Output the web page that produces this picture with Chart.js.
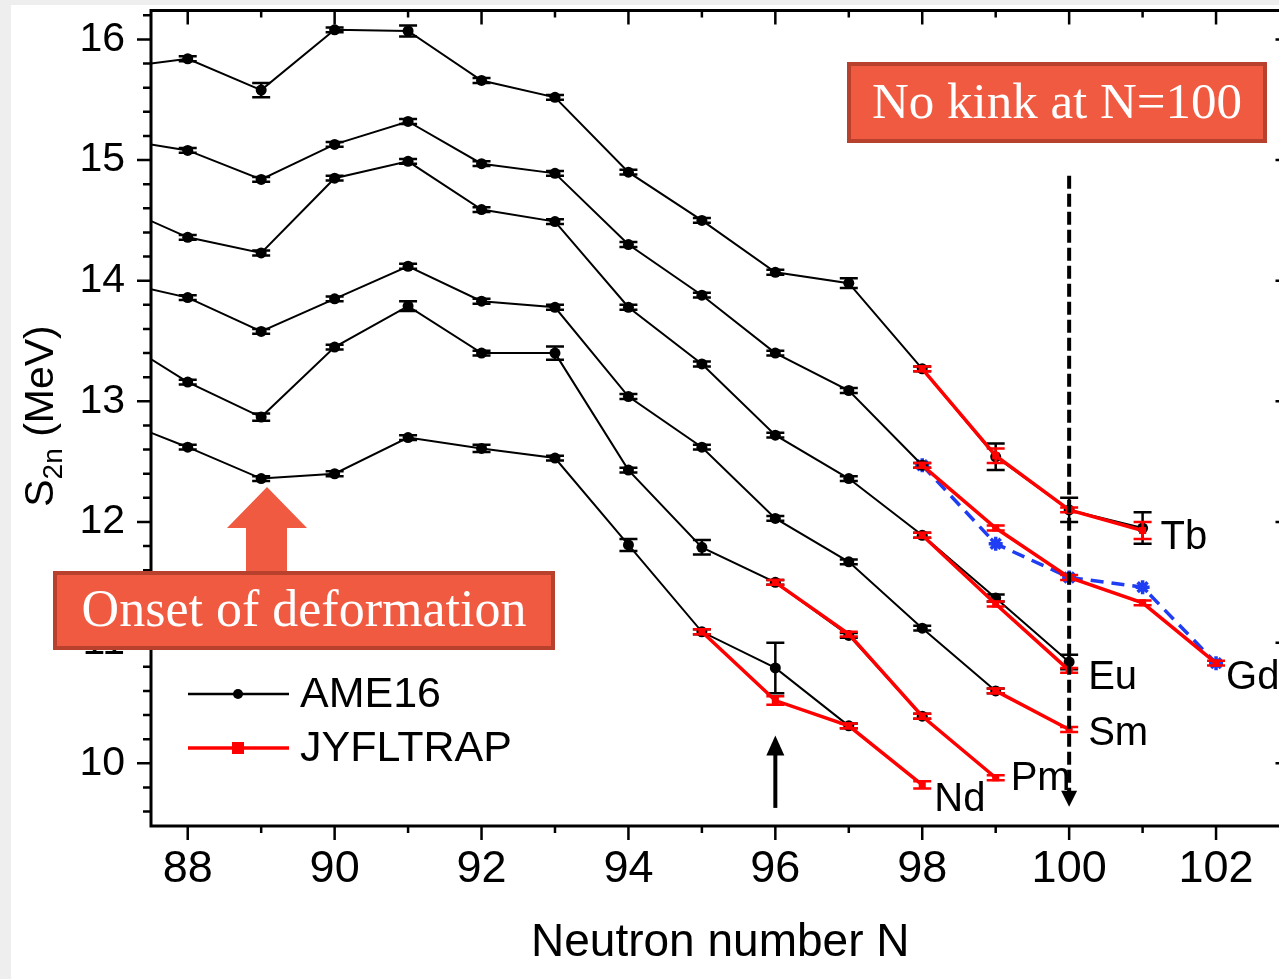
<!DOCTYPE html>
<html>
<head>
<meta charset="utf-8">
<script src="https://cdn.jsdelivr.net/npm/chart.js@4.4.0/dist/chart.umd.min.js"></script>
<style>
  html, body { margin: 0; padding: 0; overflow: hidden; background: #fff; }
  #wrap { position: relative; width: 1279px; height: 979px; overflow: hidden; }
  #s2nChart { position: absolute; left: 0; top: 0; }
</style>
</head>
<body>
<div id="wrap"><canvas id="s2nChart" width="1300" height="979"></canvas></div>
<script>
// Two-neutron separation energies S2n (MeV) versus neutron number N

// AME16 evaluation, one chain per element
const tbAmeN = [87, 88, 89, 90, 91, 92, 93, 94, 95, 96, 97, 98, 99, 100, 101];
const tbAmeS = [15.76, 15.84, 15.58, 16.08, 16.07, 15.66, 15.52, 14.90, 14.50, 14.07, 13.98, 13.27, 12.54, 12.10, 11.95];
const tbAmeErr = [0.02, 0.02, 0.06, 0.02, 0.045, 0.02, 0.02, 0.02, 0.02, 0.02, 0.04, 0.02, 0.11, 0.10, 0.13];

const gdAmeN = [87, 88, 89, 90, 91, 92, 93, 94, 95, 96, 97, 98];
const gdAmeS = [15.18, 15.08, 14.84, 15.13, 15.32, 14.97, 14.89, 14.30, 13.88, 13.40, 13.09, 12.47];
const gdAmeErr = [0.02, 0.02, 0.02, 0.02, 0.02, 0.02, 0.02, 0.02, 0.02, 0.02, 0.02, 0.02];

const euAmeN = [87, 88, 89, 90, 91, 92, 93, 94, 95, 96, 97, 98, 99, 100];
const euAmeS = [14.63, 14.36, 14.23, 14.85, 14.99, 14.59, 14.49, 13.78, 13.31, 12.72, 12.36, 11.89, 11.37, 10.84];
const euAmeErr = [0.02, 0.02, 0.02, 0.02, 0.02, 0.02, 0.02, 0.02, 0.02, 0.02, 0.02, 0.02, 0.03, 0.06];

const smAmeN = [87, 88, 89, 90, 91, 92, 93, 94, 95, 96, 97, 98, 99];
const smAmeS = [14.00, 13.86, 13.58, 13.85, 14.12, 13.83, 13.78, 13.04, 12.62, 12.03, 11.67, 11.12, 10.60];
const smAmeErr = [0.02, 0.02, 0.02, 0.02, 0.02, 0.02, 0.02, 0.02, 0.02, 0.02, 0.02, 0.02, 0.02];

const pmAmeN = [87, 88, 89, 90, 91, 92, 93, 94, 95, 96, 97, 98];
const pmAmeS = [13.54, 13.16, 12.87, 13.45, 13.79, 13.40, 13.40, 12.43, 11.79, 11.50, 11.06, 10.39];
const pmAmeErr = [0.02, 0.02, 0.03, 0.02, 0.04, 0.02, 0.055, 0.02, 0.06, 0.02, 0.02, 0.02];

const ndAmeN = [87, 88, 89, 90, 91, 92, 93, 94, 95, 96, 97];
const ndAmeS = [12.86, 12.62, 12.36, 12.40, 12.70, 12.61, 12.53, 11.81, 11.09, 10.79, 10.31];
const ndAmeErr = [0.02, 0.02, 0.02, 0.02, 0.02, 0.03, 0.02, 0.05, 0.02, 0.21, 0.02];

// JYFLTRAP results
const tbTrapN = [98, 99, 100, 101];
const tbTrapS = [13.27, 12.55, 12.10, 11.93];
const tbTrapErr = [0.02, 0.06, 0.02, 0.07];

const gdTrapN = [98, 99, 100, 101, 102];
const gdTrapS = [12.47, 11.95, 11.54, 11.33, 10.83];
const gdTrapErr = [0.02, 0.02, 0.02, 0.02, 0.02];

const euTrapN = [98, 99, 100];
const euTrapS = [11.89, 11.32, 10.77];
const euTrapErr = [0.02, 0.02, 0.02];

const smTrapN = [99, 100];
const smTrapS = [10.60, 10.28];
const smTrapErr = [0.02, 0.02];

const pmTrapN = [96, 97, 98, 99];
const pmTrapS = [11.50, 11.07, 10.39, 9.88];
const pmTrapErr = [0.02, 0.02, 0.02, 0.02];

const ndTrapN = [95, 96, 97, 98];
const ndTrapS = [11.09, 10.52, 10.31, 9.82];
const ndTrapErr = [0.02, 0.035, 0.02, 0.03];

// other Gd values (dashed)
const gdAltN = [98, 99, 100, 101, 102];
const gdAltS = [12.47, 11.82, 11.54, 11.46, 10.83];

const chainLabels = ['Tb', 'Gd', 'Eu', 'Sm', 'Pm', 'Nd'];
const legendNames = ['AME16', 'JYFLTRAP'];
const xTitle = 'Neutron number N';

const BLACK = '#000000';
const RED = '#ff0000';
const BLUE = '#1f3df2';
const BOX = '#f05a41';
const BOX_EDGE = '#b8412e';

function pts(ns, vals) {
  return ns.map((n, i) => ({x: n, y: vals[i]}));
}

function ameSet(ns, vals, errs) {
  return {
    data: pts(ns, vals), errors: errs, capHalf: 9,
    borderColor: BLACK, backgroundColor: BLACK, borderWidth: 2,
    pointStyle: 'circle', pointRadius: 5.5, pointBorderWidth: 0,
    order: 2
  };
}

function trapSet(ns, vals, errs, label) {
  return {
    data: pts(ns, vals), errors: errs, capHalf: 9, chainLabel: label,
    borderColor: RED, backgroundColor: RED, borderWidth: 3.5,
    pointStyle: 'rect', pointRadius: 5, pointBorderWidth: 0,
    order: 1
  };
}

const datasets = [
  {
    data: pts(gdAltN, gdAltS), borderColor: BLUE, backgroundColor: BLUE,
    borderWidth: 3.5, borderDash: [13, 8], pointStyle: 'star', pointRadius: 7,
    pointBorderWidth: 3.5, order: 3
  },
  ameSet(tbAmeN, tbAmeS, tbAmeErr),
  ameSet(gdAmeN, gdAmeS, gdAmeErr),
  ameSet(euAmeN, euAmeS, euAmeErr),
  ameSet(smAmeN, smAmeS, smAmeErr),
  ameSet(pmAmeN, pmAmeS, pmAmeErr),
  ameSet(ndAmeN, ndAmeS, ndAmeErr),
  trapSet(tbTrapN, tbTrapS, tbTrapErr, chainLabels[0]),
  trapSet(gdTrapN, gdTrapS, gdTrapErr, chainLabels[1]),
  trapSet(euTrapN, euTrapS, euTrapErr, chainLabels[2]),
  trapSet(smTrapN, smTrapS, smTrapErr, chainLabels[3]),
  trapSet(pmTrapN, pmTrapS, pmTrapErr, chainLabels[4]),
  trapSet(ndTrapN, ndTrapS, ndTrapErr, chainLabels[5])
];

// where each element name sits relative to the last JYFLTRAP point
const labelOffsets = {Tb: [18, 8], Gd: [10, 15], Eu: [19, 8], Sm: [19, 4], Pm: [15, 1], Nd: [12, 15]};

// vertical error bars with caps, drawn right after their own line
const errorBars = {
  id: 'errorBars',
  afterDatasetDraw(chart, args) {
    const ds = chart.data.datasets[args.index];
    if (!ds.errors) return;
    const {ctx, scales: {x, y}} = chart;
    ctx.save();
    ctx.strokeStyle = ds.borderColor;
    ctx.lineWidth = 2.5;
    ds.data.forEach((p, i) => {
      const e = ds.errors[i];
      if (!e || p.x < x.min) return;
      const px = x.getPixelForValue(p.x);
      const hi = y.getPixelForValue(p.y + e);
      const lo = y.getPixelForValue(p.y - e);
      ctx.beginPath();
      ctx.moveTo(px, hi); ctx.lineTo(px, lo);
      ctx.moveTo(px - ds.capHalf, hi); ctx.lineTo(px + ds.capHalf, hi);
      ctx.moveTo(px - ds.capHalf, lo); ctx.lineTo(px + ds.capHalf, lo);
      ctx.stroke();
    });
    ctx.restore();
  }
};

// page background and margin strips
const backdrop = {
  id: 'backdrop',
  beforeDraw(chart) {
    const ctx = chart.ctx;
    ctx.save();
    ctx.fillStyle = '#ffffff';
    ctx.fillRect(0, 0, chart.width, chart.height);
    ctx.fillStyle = '#eeeeee';
    ctx.fillRect(0, 0, 11, chart.height);
    ctx.fillRect(0, 0, chart.width, 5);
    ctx.restore();
  }
};

// box frame with mirrored tick marks
const frame = {
  id: 'frame',
  afterDraw(chart) {
    const {ctx, chartArea: a, scales: {x, y}} = chart;
    ctx.save();
    ctx.strokeStyle = BLACK;
    ctx.lineWidth = 3;
    ctx.strokeRect(a.left, a.top, a.right - a.left, a.bottom - a.top);
    ctx.lineWidth = 2.5;
    ctx.beginPath();
    for (let n = 88; n <= 103; n++) {
      const px = x.getPixelForValue(n);
      const len = n % 2 === 0 ? 14 : 7;
      ctx.moveTo(px, a.bottom); ctx.lineTo(px, a.bottom + len);
      ctx.moveTo(px, a.top); ctx.lineTo(px, a.top + len);
    }
    for (let k = 48; k <= 81; k++) {
      const v = k / 5;
      const py = y.getPixelForValue(v);
      const len = k % 5 === 0 ? 14 : 8;
      ctx.moveTo(a.left, py); ctx.lineTo(a.left - len, py);
      ctx.moveTo(a.right, py); ctx.lineTo(a.right - len, py);
    }
    ctx.stroke();
    ctx.restore();
  }
};

function arrowHead(ctx, tipX, tipY, halfW, len, dir) {
  ctx.beginPath();
  ctx.moveTo(tipX, tipY);
  ctx.lineTo(tipX - halfW, tipY - dir * len);
  ctx.lineTo(tipX + halfW, tipY - dir * len);
  ctx.closePath();
  ctx.fill();
}

function calloutBox(ctx, left, top, w, h, text, size) {
  ctx.fillStyle = BOX_EDGE;
  ctx.fillRect(left, top, w, h);
  ctx.fillStyle = BOX;
  ctx.fillRect(left + 4, top + 4, w - 8, h - 8);
  ctx.fillStyle = '#ffffff';
  ctx.font = size + 'px "Liberation Serif", "DejaVu Serif", serif';
  ctx.textAlign = 'center';
  ctx.textBaseline = 'middle';
  ctx.fillText(text, left + w / 2, top + h / 2 + 2);
}

const overlays = {
  id: 'overlays',
  afterDraw(chart) {
    const {ctx, scales: {x, y}} = chart;
    ctx.save();

    // N = 100 marker line
    const x100 = x.getPixelForValue(100);
    ctx.strokeStyle = BLACK;
    ctx.fillStyle = BLACK;
    ctx.lineWidth = 4;
    ctx.setLineDash([13, 5]);
    ctx.beginPath();
    ctx.moveTo(x100, y.getPixelForValue(14.87));
    ctx.lineTo(x100, y.getPixelForValue(9.76));
    ctx.stroke();
    ctx.setLineDash([]);
    arrowHead(ctx, x100, y.getPixelForValue(9.64), 8, 16, 1);

    // arrow under N = 96
    const x96 = x.getPixelForValue(96);
    ctx.beginPath();
    ctx.moveTo(x96, y.getPixelForValue(9.63));
    ctx.lineTo(x96, y.getPixelForValue(10.08));
    ctx.stroke();
    arrowHead(ctx, x96, y.getPixelForValue(10.23), 9, 20, -1);

    // onset arrow
    ctx.fillStyle = BOX;
    ctx.beginPath();
    ctx.moveTo(267, 487);
    ctx.lineTo(307, 528);
    ctx.lineTo(287, 528);
    ctx.lineTo(287, 574);
    ctx.lineTo(246, 574);
    ctx.lineTo(246, 528);
    ctx.lineTo(227, 528);
    ctx.closePath();
    ctx.fill();

    calloutBox(ctx, 847, 62, 420, 81, 'No kink at N=100', 51);
    calloutBox(ctx, 53, 571, 502, 79, 'Onset of deformation', 52);

    // element names at the ends of the chains
    ctx.fillStyle = BLACK;
    ctx.font = '40px "Liberation Sans", Arial, sans-serif';
    ctx.textAlign = 'left';
    ctx.textBaseline = 'middle';
    chart.data.datasets.forEach(ds => {
      if (!ds.chainLabel) return;
      const last = ds.data[ds.data.length - 1];
      const off = labelOffsets[ds.chainLabel];
      ctx.fillText(ds.chainLabel, x.getPixelForValue(last.x) + off[0], y.getPixelForValue(last.y) + off[1]);
    });

    // legend
    ctx.lineWidth = 2.5;
    ctx.strokeStyle = BLACK;
    ctx.beginPath(); ctx.moveTo(188, 694); ctx.lineTo(289, 694); ctx.stroke();
    ctx.beginPath(); ctx.arc(238, 694, 5, 0, Math.PI * 2); ctx.fill();
    ctx.lineWidth = 3.5;
    ctx.strokeStyle = RED;
    ctx.beginPath(); ctx.moveTo(188, 748); ctx.lineTo(289, 748); ctx.stroke();
    ctx.fillStyle = RED;
    ctx.fillRect(232, 742, 12, 12);
    ctx.fillStyle = BLACK;
    ctx.font = '43px "Liberation Sans", Arial, sans-serif';
    ctx.fillText(legendNames[0], 300, 695);
    ctx.fillText(legendNames[1], 300, 749);

    // y axis title with subscript
    ctx.translate(53, 416);
    ctx.rotate(-Math.PI / 2);
    const big = '41px "Liberation Sans", Arial, sans-serif';
    const small = '28px "Liberation Sans", Arial, sans-serif';
    ctx.textBaseline = 'alphabetic';
    ctx.font = big;
    const wS = ctx.measureText('S').width;
    const wTail = ctx.measureText(' (MeV)').width;
    ctx.font = small;
    const wSub = ctx.measureText('2n').width;
    let cx = -(wS + wSub + wTail) / 2;
    ctx.font = big;
    ctx.fillText('S', cx, 0);
    cx += wS;
    ctx.font = small;
    ctx.fillText('2n', cx, 9);
    cx += wSub;
    ctx.font = big;
    ctx.fillText(' (MeV)', cx, 0);

    ctx.restore();
  }
};

Chart.defaults.font.family = '"Liberation Sans", Arial, sans-serif';
Chart.defaults.color = BLACK;

new Chart(document.getElementById('s2nChart').getContext('2d'), {
  type: 'line',
  data: {datasets: datasets},
  options: {
    responsive: false,
    animation: false,
    events: [],
    layout: {padding: {top: 10, right: 10, left: 0, bottom: 0}},
    plugins: {legend: {display: false}, tooltip: {enabled: false}},
    scales: {
      x: {
        type: 'linear', min: 87.5, max: 103,
        afterFit(scale) {
          scale.height = 153;
          scale.paddingLeft = 0;
          scale.paddingRight = 0;
        },
        grid: {display: false, drawTicks: false},
        border: {display: false},
        ticks: {stepSize: 2, includeBounds: false, padding: 17, font: {size: 45}, color: BLACK},
        title: {display: true, text: xTitle, font: {size: 46}, color: BLACK, padding: {top: 0, bottom: 8}}
      },
      y: {
        type: 'linear', min: 9.48, max: 16.24,
        afterFit(scale) {
          scale.width = 151;
          scale.paddingTop = 0;
          scale.paddingBottom = 0;
        },
        grid: {display: false, drawTicks: false},
        border: {display: false},
        ticks: {
          stepSize: 1, includeBounds: false, padding: 26, font: {size: 41}, color: BLACK,
          callback: v => Number.isInteger(v) ? v : null
        }
      }
    }
  },
  plugins: [backdrop, errorBars, frame, overlays]
});
</script>
</body>
</html>
